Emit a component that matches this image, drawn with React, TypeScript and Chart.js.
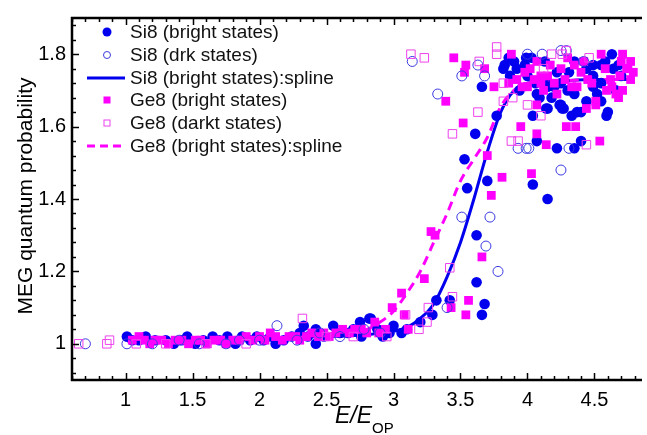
import React, { useEffect, useRef } from "react";
import { Chart, registerables } from "chart.js";

Chart.register(...registerables);

// ---------- data ----------
const si8BrightX = [1.01,1.05,1.10,1.15,1.22,1.30,1.36,1.42,1.46,1.52,1.58,1.65,1.70,1.76,1.82,1.87,1.93,1.98,2.03,2.08,2.12,2.18,2.24,2.30,2.33,2.36,2.42,2.42,2.48,2.55,2.60,2.66,2.70,2.75,2.76,2.82,2.83,2.88,2.92,2.97,3.00,3.06,3.10,
  3.20,3.29,3.32,3.42,3.62,3.66,3.68,3.62,3.53,3.55,3.70,3.66,3.77,3.61,4.04,4.15,4.07,4.22,4.35,4.40,
  3.83,3.82,3.99,4.03,3.98,3.94,4.00,4.13,4.04,4.14,4.09,4.18,4.24,4.26,4.33,4.40,4.59,4.60,4.44,4.20,4.35,4.44,4.63,4.49,4.64,4.55,4.55,4.49,4.31,4.25,4.15,4.07,4.35,4.49,4.55,4.25,4.37,4.27,4.15,3.90,3.87,4.70,4.66,
  3.86,3.92,4.06,4.22,4.52,4.68,4.12,4.30,4.58];
const si8BrightY = [1.02,1.01,1.01,1.02,1.01,1.01,1.00,1.01,1.02,1.00,1.01,1.02,1.01,1.02,1.00,1.02,1.01,1.02,1.01,1.02,1.00,1.01,1.02,1.03,1.05,1.02,1.04,1.00,1.02,1.05,1.03,1.03,1.04,1.06,1.02,1.07,1.07,1.04,1.02,1.03,1.05,1.03,1.04,
  1.06,1.08,1.12,1.12,1.17,1.08,1.11,1.30,1.51,1.43,1.45,1.71,1.63,1.58,1.44,1.40,1.56,1.54,1.54,1.56,
  1.77,1.76,1.79,1.79,1.77,1.70,1.74,1.78,1.63,1.65,1.68,1.68,1.66,1.65,1.63,1.64,1.63,1.64,1.67,1.71,1.78,1.76,1.80,1.74,1.76,1.77,1.67,1.77,1.75,1.72,1.71,1.69,1.69,1.71,1.72,1.66,1.64,1.65,1.65,1.78,1.74,1.74,1.70,
  1.79,1.76,1.72,1.75,1.69,1.77,1.73,1.70,1.78];

const si8DarkX = [0.70,1.01,1.20,1.40,1.55,1.75,1.85,2.00,2.13,2.28,2.45,2.60,2.78,2.90,3.40,3.51,3.72,3.69,3.78,4.25,3.14,3.63,3.51,3.68,3.33,3.93,3.99,4.01,4.31,4.25,4.29,4.11,4.42,4.00];
const si8DarkY = [1.00,1.00,1.00,1.01,1.00,1.00,1.01,1.01,1.05,1.01,1.03,1.02,1.04,1.03,1.10,1.35,1.35,1.27,1.20,1.48,1.78,1.77,1.74,1.74,1.69,1.54,1.54,1.54,1.54,1.81,1.81,1.80,1.78,1.80];

const ge8BrightX = [1.05,1.10,1.14,1.18,1.22,1.27,1.32,1.37,1.42,1.47,1.52,1.56,1.61,1.66,1.71,1.75,1.80,1.85,1.90,1.95,2.00,2.04,2.08,2.12,2.17,2.22,2.27,2.30,2.35,2.39,2.44,2.48,2.52,2.57,2.62,2.67,2.71,2.76,2.80,2.86,2.89,2.94,2.99,3.06,3.08,3.11,
  3.23,3.28,3.31,3.43,3.56,3.54,3.66,3.73,3.70,3.81,4.03,3.39,3.52,3.95,4.14,4.54,4.29,4.36,4.07,
  3.45,3.54,3.53,3.68,3.88,3.75,4.07,4.44,4.51,4.71,4.55,4.77,4.75,4.77,4.69,4.62,4.59,4.66,4.71,4.68,4.51,4.40,4.42,4.35,4.30,4.20,4.10,4.37,4.33,4.05,4.10,4.15,4.00,3.96,4.25,4.07,4.70,4.74,3.92,4.02,4.28,4.48,4.58,4.12,4.22,
  3.98,4.17,4.45,4.63,4.79,3.86];
const ge8BrightY = [1.01,1.02,1.01,1.00,1.01,1.01,1.00,1.01,1.01,1.00,1.01,1.01,1.00,1.01,1.01,1.00,1.01,1.01,1.02,1.01,1.02,1.01,1.03,1.02,1.01,1.02,1.02,1.01,1.02,1.03,1.02,1.03,1.02,1.03,1.04,1.03,1.04,1.04,1.03,1.06,1.03,1.04,1.10,1.14,1.08,1.04,
  1.18,1.31,1.30,1.10,1.12,1.08,1.24,1.41,1.52,1.46,1.47,1.67,1.61,1.60,1.55,1.56,1.60,1.60,1.58,
  1.79,1.77,1.75,1.76,1.80,1.71,1.66,1.65,1.66,1.80,1.80,1.78,1.76,1.73,1.74,1.73,1.70,1.69,1.70,1.68,1.67,1.75,1.78,1.77,1.79,1.72,1.74,1.71,1.71,1.73,1.72,1.74,1.71,1.71,1.76,1.78,1.78,1.76,1.73,1.76,1.73,1.72,1.76,1.70,1.69,
  1.75,1.77,1.73,1.71,1.75,1.72];

const ge8DarkX = [0.65,0.86,0.88,1.08,1.30,1.60,1.90,2.32,2.50,2.70,2.95,3.19,3.25,3.26,3.09,3.44,3.42,3.13,3.23,3.64,3.77,3.77,3.82,3.89,3.82,3.63,3.44,4.00,4.10,3.88,3.93,4.44,4.29,4.26,4.18,4.12,4.46];
const ge8DarkY = [1.00,1.00,1.01,1.00,1.00,1.00,1.00,1.07,1.02,1.02,1.02,1.04,1.06,1.10,1.08,1.13,1.21,1.80,1.79,1.78,1.82,1.80,1.72,1.68,1.67,1.64,1.58,1.66,1.63,1.56,1.56,1.55,1.81,1.80,1.80,1.76,1.79];

const si8SplineX = [1.0,1.5,2.0,2.5,2.8,3.0,3.1,3.2,3.3,3.4,3.5,3.6,3.7,3.8,3.9,4.0,4.2,4.5,4.8];
const si8SplineY = [1.01,1.01,1.015,1.02,1.025,1.035,1.045,1.07,1.11,1.185,1.28,1.40,1.53,1.64,1.70,1.72,1.725,1.73,1.73];
const ge8SplineX = [1.0,1.5,2.0,2.5,2.8,2.9,3.0,3.1,3.2,3.3,3.4,3.5,3.6,3.7,3.8,3.9,4.0,4.2,4.5,4.8];
const ge8SplineY = [1.01,1.01,1.015,1.025,1.04,1.06,1.09,1.14,1.20,1.28,1.36,1.45,1.51,1.57,1.655,1.70,1.72,1.725,1.73,1.73];

const xTicks = [1, 1.5, 2, 2.5, 3, 3.5, 4, 4.5];
const yTicks = [1, 1.2, 1.4, 1.6, 1.8];
const legendLabels = [
  "Si8 (bright states)",
  "Si8 (drk states)",
  "Si8 (bright states):spline",
  "Ge8 (bright states)",
  "Ge8 (darkt states)",
  "Ge8 (bright states):spline",
];
const yTitle = "MEG quantum probability";

const BLUE = "#0000ee";
const BLUE_OPEN = "#3a3ae0";
const MAG = "#ff00ff";
const MAG_OPEN = "#ee40ee";
const FONT = "'Liberation Sans', Arial, sans-serif";

const pts = (xs: number[], ys: number[]) => xs.map((x, i) => ({ x, y: ys[i] }));

const decorPlugin = {
  id: "decor",
  afterDraw(chart: any) {
    const ctx = chart.ctx;
    const ca = chart.chartArea;
    const xs = chart.scales.x;
    const ys = chart.scales.y;
    ctx.save();
    ctx.strokeStyle = "#000";
    ctx.lineWidth = 1.5;
    for (let k = 6; k <= 48; k++) {
      const v = k / 10;
      const px = Math.round(xs.getPixelForValue(v)) + 0.5;
      const major = k % 5 === 0;
      const len = major ? 7 : 4;
      ctx.beginPath();
      ctx.moveTo(px, ca.bottom);
      ctx.lineTo(px, ca.bottom - len);
      ctx.moveTo(px, ca.top);
      ctx.lineTo(px, ca.top + len);
      ctx.stroke();
    }
    for (let k = 23; k <= 47; k++) {
      const v = k * 0.04;
      const py = Math.round(ys.getPixelForValue(v)) + 0.5;
      const major = k % 5 === 0;
      const len = major ? 7 : 4;
      ctx.beginPath();
      ctx.moveTo(ca.left, py);
      ctx.lineTo(ca.left + len, py);
      ctx.stroke();
    }
    ctx.lineWidth = 2.5;
    ctx.beginPath();
    ctx.moveTo(ca.right + 2, ca.top);
    ctx.lineTo(ca.left, ca.top);
    ctx.lineTo(ca.left, ca.bottom);
    ctx.lineTo(ca.right + 2, ca.bottom);
    ctx.stroke();

    // y title
    ctx.fillStyle = "#000";
    ctx.save();
    ctx.translate(26, 196);
    ctx.rotate(-Math.PI / 2);
    ctx.font = `21px ${FONT}`;
    ctx.textAlign = "center";
    ctx.textBaseline = "middle";
    ctx.fillText(yTitle, 0, 0);
    ctx.restore();

    // x title E/E_OP
    ctx.textAlign = "left";
    ctx.textBaseline = "alphabetic";
    ctx.font = `italic 23px ${FONT}`;
    ctx.fillText("E/E", 335, 423);
    const w = ctx.measureText("E/E").width;
    ctx.font = `15px ${FONT}`;
    ctx.fillText("OP", 335 + w, 433);

    // legend
    const rows = [32, 55, 78, 100, 123, 146];
    const sx = 107;
    ctx.font = `19px ${FONT}`;
    ctx.textBaseline = "middle";
    rows.forEach((ry, i) => {
      ctx.fillStyle = "#111";
      ctx.fillText(legendLabels[i], 130, ry + 1);
      if (i === 0) {
        ctx.fillStyle = BLUE;
        ctx.beginPath();
        ctx.arc(sx, ry, 4.5, 0, Math.PI * 2);
        ctx.fill();
      } else if (i === 1) {
        ctx.strokeStyle = BLUE_OPEN;
        ctx.lineWidth = 1;
        ctx.beginPath();
        ctx.arc(sx, ry, 3.5, 0, Math.PI * 2);
        ctx.stroke();
      } else if (i === 2) {
        ctx.strokeStyle = BLUE;
        ctx.lineWidth = 3;
        ctx.setLineDash([]);
        ctx.beginPath();
        ctx.moveTo(87, ry);
        ctx.lineTo(125, ry);
        ctx.stroke();
      } else if (i === 3) {
        ctx.fillStyle = MAG;
        ctx.fillRect(sx - 3.5, ry - 3.5, 7, 7);
      } else if (i === 4) {
        ctx.strokeStyle = MAG_OPEN;
        ctx.lineWidth = 1;
        ctx.strokeRect(sx - 3, ry - 3, 6, 6);
      } else {
        ctx.strokeStyle = MAG;
        ctx.lineWidth = 3;
        ctx.setLineDash([8, 5]);
        ctx.beginPath();
        ctx.moveTo(87, ry);
        ctx.lineTo(125, ry);
        ctx.stroke();
        ctx.setLineDash([]);
      }
    });
    ctx.restore();
  },
};

export default function App() {
  const ref = useRef<HTMLCanvasElement | null>(null);
  useEffect(() => {
    document.body.style.margin = "0";
    const canvas = ref.current;
    if (!canvas) return;
    const chart = new Chart(canvas, {
      type: "scatter",
      data: {
        datasets: [
          {
            label: legendLabels[0],
            data: pts(si8BrightX, si8BrightY),
            pointStyle: "circle",
            pointRadius: 5.3,
            backgroundColor: BLUE,
            borderWidth: 0,
            order: 4,
          },
          {
            label: legendLabels[1],
            data: pts(si8DarkX, si8DarkY),
            pointStyle: "circle",
            pointRadius: 5,
            backgroundColor: "rgba(0,0,0,0)",
            borderColor: BLUE_OPEN,
            borderWidth: 1,
            order: 2,
          },
          {
            label: legendLabels[2],
            data: pts(si8SplineX, si8SplineY),
            showLine: true,
            pointRadius: 0,
            borderColor: BLUE,
            borderWidth: 3,
            tension: 0.4,
            cubicInterpolationMode: "monotone",
            order: 6,
          },
          {
            label: legendLabels[3],
            data: pts(ge8BrightX, ge8BrightY),
            pointStyle: "rect",
            pointRadius: 6.2,
            backgroundColor: MAG,
            borderWidth: 0,
            order: 3,
          },
          {
            label: legendLabels[4],
            data: pts(ge8DarkX, ge8DarkY),
            pointStyle: "rect",
            pointRadius: 6,
            backgroundColor: "rgba(0,0,0,0)",
            borderColor: MAG_OPEN,
            borderWidth: 1,
            order: 1,
          },
          {
            label: legendLabels[5],
            data: pts(ge8SplineX, ge8SplineY),
            showLine: true,
            pointRadius: 0,
            borderColor: MAG,
            borderWidth: 3,
            borderDash: [9, 6],
            tension: 0.4,
            cubicInterpolationMode: "monotone",
            order: 5,
          },
        ],
      },
      options: {
        responsive: false,
        animation: false,
        events: [],
        layout: { padding: { top: 12, right: 0, left: 0, bottom: 0 } },
        plugins: { legend: { display: false }, tooltip: { enabled: false } },
        scales: {
          x: {
            type: "linear",
            min: 0.6,
            max: 4.84,
            grid: { display: false, drawTicks: false },
            border: { display: false },
            afterBuildTicks: (s: any) => {
              s.ticks = xTicks.map((v) => ({ value: v }));
            },
            afterFit: (s: any) => {
              s.height = 55;
            },
            ticks: {
              autoSkip: false,
              maxRotation: 0,
              padding: 8,
              color: "#000",
              font: { family: FONT, size: 20 },
              callback: (v: any) => String(v),
            },
          },
          y: {
            type: "linear",
            min: 0.9,
            max: 1.9,
            grid: { display: false, drawTicks: false },
            border: { display: false },
            afterBuildTicks: (s: any) => {
              s.ticks = yTicks.map((v) => ({ value: v }));
            },
            afterFit: (s: any) => {
              s.width = 72;
            },
            ticks: {
              autoSkip: false,
              padding: 6,
              color: "#000",
              font: { family: FONT, size: 20 },
              callback: (v: any) => String(Math.round(v * 10) / 10),
            },
          },
        },
      },
      plugins: [decorPlugin],
    });
    return () => chart.destroy();
  }, []);
  return (
    <div style={{ width: 647, height: 435, background: "#fff" }}>
      <canvas ref={ref} width={647} height={435} />
    </div>
  );
}
